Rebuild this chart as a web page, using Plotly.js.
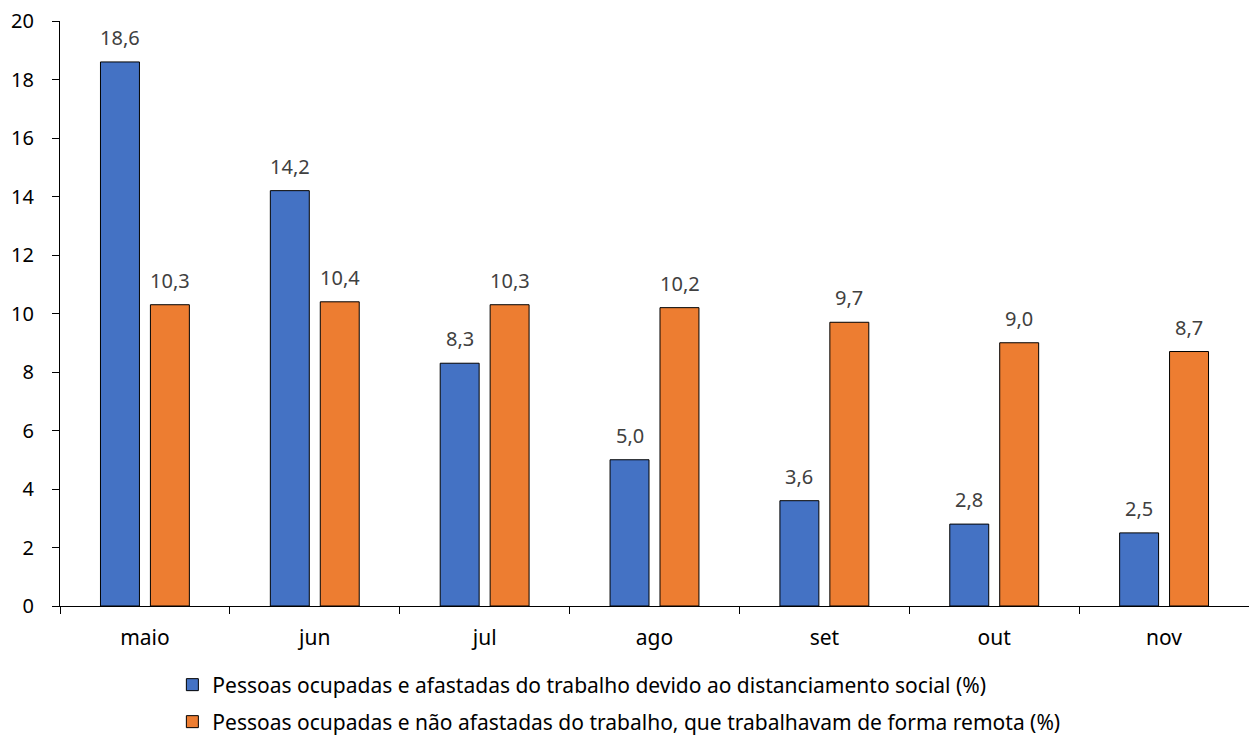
<!DOCTYPE html>
<html>
<head>
<meta charset="utf-8">
<script src="https://cdn.plot.ly/plotly-3.0.1.min.js"></script>
<style>
  html, body { margin: 0; padding: 0; background: #fff; }
  #chart { width: 1249px; height: 738px; }
</style>
</head>
<body>
<div id="chart"></div>
<script>
// Months of the survey
const months = ['maio', 'jun', 'jul', 'ago', 'set', 'out', 'nov'];

// Share of employed people away from work due to social distancing (%)
const afastados = [18.6, 14.2, 8.3, 5.0, 3.6, 2.8, 2.5];

// Share of employed people not away from work, working remotely (%)
const remoto = [10.3, 10.4, 10.3, 10.2, 9.7, 9.0, 8.7];

const seriesNames = [
  'Pessoas ocupadas e afastadas do trabalho devido ao distanciamento social (%)',
  'Pessoas ocupadas e não afastadas do trabalho, que trabalhavam de forma remota (%)'
];

const yTicks = [0, 2, 4, 6, 8, 10, 12, 14, 16, 18, 20];

const FONT = 'Noto Sans, sans-serif';
const fmt = v => v.toFixed(1).replace('.', ',');

function barTrace(values, name, color, legendId) {
  return {
    type: 'bar',
    x: months,
    y: values,
    name: name,
    legend: legendId,
    marker: { color: color, line: { color: '#000', width: 1 } },
    hoverinfo: 'skip'
  };
}

const data = [
  barTrace(afastados, seriesNames[0], '#4472C4', 'legend'),
  barTrace(remoto, seriesNames[1], '#ED7D31', 'legend2')
];

// Value labels above each bar (left bar of the pair shifted left, right bar shifted right)
function valueLabels(values, shift) {
  return values.map((v, i) => ({
    x: months[i],
    y: v,
    xref: 'x',
    yref: 'y',
    text: fmt(v),
    showarrow: false,
    xanchor: 'center',
    yanchor: 'bottom',
    xshift: shift,
    yshift: 9,
    font: { family: FONT, size: 20, color: '#404040' }
  }));
}

const legendBase = {
  orientation: 'v',
  xref: 'container',
  yref: 'container',
  x: 0.138,
  xanchor: 'left',
  yanchor: 'middle',
  bgcolor: 'rgba(0,0,0,0)',
  font: { family: FONT, size: 21, color: '#000' }
};

const layout = {
  width: 1249,
  height: 738,
  margin: { l: 60, r: 0, t: 21, b: 132, autoexpand: false },
  paper_bgcolor: '#fff',
  plot_bgcolor: '#fff',
  font: { family: FONT, color: '#000' },
  barmode: 'group',
  bargap: 0.412,
  bargroupgap: 0.22,
  showlegend: true,
  legend: Object.assign({}, legendBase, { y: 1 - 685 / 738 }),
  legend2: Object.assign({}, legendBase, { y: 1 - 722 / 738 }),
  annotations: valueLabels(afastados, -25).concat(valueLabels(remoto, 25)),
  xaxis: {
    type: 'category',
    showline: true,
    linecolor: '#000',
    linewidth: 1,
    ticks: 'outside',
    tickson: 'boundaries',
    ticklen: 7,
    tickcolor: '#000',
    tickangle: 0,
    ticklabelstandoff: 13,
    tickfont: { family: FONT, size: 21, color: '#000' },
    showgrid: false,
    zeroline: false,
    fixedrange: true
  },
  yaxis: {
    range: [0, 20],
    tickvals: yTicks,
    ticktext: yTicks.map(String),
    showline: true,
    linecolor: '#000',
    linewidth: 1,
    ticks: 'outside',
    ticklen: 7,
    tickcolor: '#000',
    ticklabelstandoff: 14,
    tickfont: { family: FONT, size: 20, color: '#000' },
    showgrid: false,
    zeroline: false,
    fixedrange: true
  }
};

Plotly.newPlot('chart', data, layout, { displayModeBar: false, staticPlot: true });
</script>
</body>
</html>
